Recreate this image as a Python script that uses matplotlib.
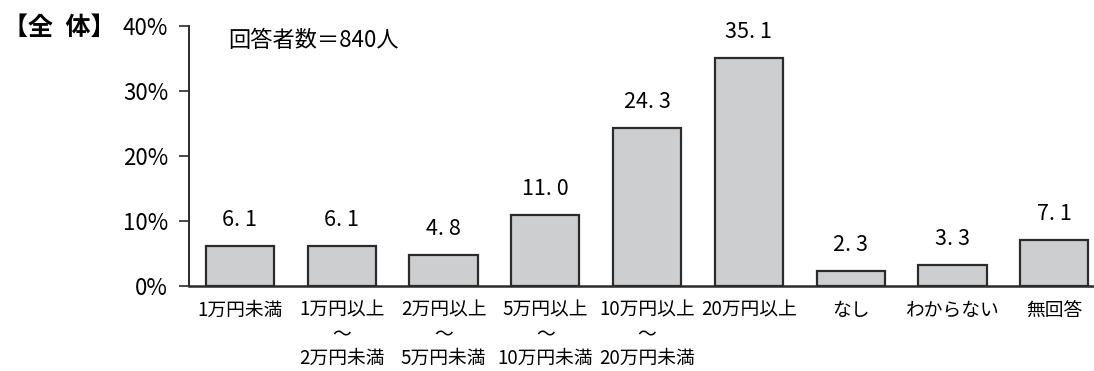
import matplotlib
matplotlib.use("Agg")
import matplotlib.pyplot as plt

plt.rcParams['font.family'] = ['Noto Sans CJK JP', 'DejaVu Sans']

# 回答データ（全体、n=840）
categories = ["1万円未満", "1万円以上\n～\n2万円未満", "2万円以上\n～\n5万円未満",
              "5万円以上\n～\n10万円未満", "10万円以上\n～\n20万円未満", "20万円以上",
              "なし", "わからない", "無回答"]
values = [6.1, 6.1, 4.8, 11.0, 24.3, 35.1, 2.3, 3.3, 7.1]
yticks = [0, 10, 20, 30, 40]

fig = plt.figure(figsize=(10.94, 3.71), dpi=100)
ax = fig.add_axes([0.1728, 0.229, 0.8262, 0.701])

x = range(len(values))
ax.bar(x, values, width=0.67, color="#cdced0", edgecolor="#2b2b2b", linewidth=1.6, zorder=2)

# 数値ラベル（元図は等幅っぽく「6. 1」と空く）
for xi, v in zip(x, values):
    ax.text(xi, v + 4.0, f"{v:.1f}".replace(".", ". "), ha="center", va="center",
            fontsize=15.5)

ax.set_xlim(-0.5, 8.38)
ax.set_ylim(0, 40)
ax.set_yticks(yticks)
ax.set_yticklabels([f"{t}%" for t in yticks], fontsize=16)
ax.set_xticks(list(x))
ax.set_xticklabels(categories, fontsize=13.5, linespacing=1.2, va="top")

for side in ("top", "right"):
    ax.spines[side].set_visible(False)
ax.spines["left"].set_linewidth(1.4)
ax.spines["bottom"].set_linewidth(1.8)
ax.spines["left"].set_color("#2b2b2b")
ax.spines["bottom"].set_color("#2b2b2b")
ax.tick_params(axis="y", length=7, width=1.2, pad=8, color="#2b2b2b")
ax.tick_params(axis="x", length=0, pad=10)

fig.text(0.003, 0.925, "【全\u2002体】", fontsize=18, fontweight="bold", va="center", ha="left")
fig.text(0.2084, 0.892, "回答者数＝840人", fontsize=16, va="center", ha="left")

fig.savefig("out.png", dpi=100)
